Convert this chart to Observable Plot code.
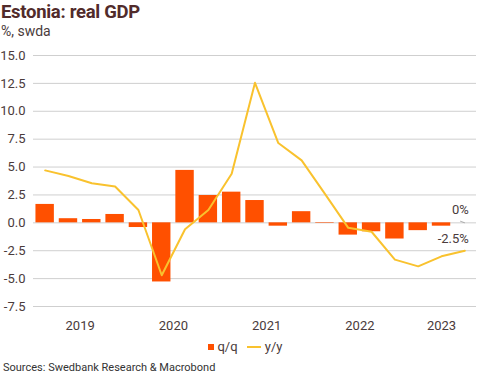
<!DOCTYPE html>
<html>
<head>
<meta charset="utf-8">
<script src="https://cdn.jsdelivr.net/npm/d3@7"></script>
<script src="https://cdn.jsdelivr.net/npm/@observablehq/plot@0.6"></script>
<style>
  html, body { margin: 0; padding: 0; background: #fff; }
  body { width: 491px; height: 377px; overflow: hidden; font-family: Roboto, "Noto Sans", sans-serif; }
  #title { position: absolute; left: 1px; top: 1px; font-size: 18.5px; font-weight: 700; color: #512B2B; letter-spacing: -0.3px; }
  #subtitle { position: absolute; left: 1px; top: 23px; font-size: 14px; color: #4a3b3b; }
  #chart { position: absolute; left: 0; top: 45px; }
  #legend { position: absolute; left: 0; width: 491px; top: 338px; text-align: center; font-size: 13px; color: #4a3b3b; }
  #legend span { display: inline-block; vertical-align: middle; }
  #source { position: absolute; left: 3px; top: 361px; font-size: 11px; color: #333; }
</style>
</head>
<body>
<div id="title">Estonia: real GDP</div>
<div id="subtitle">%, swda</div>
<div id="chart"></div>
<div id="legend">
  <span style="width:6px;height:6px;background:#FF5000;margin-right:3px;"></span><span>q/q</span>
  <span style="width:14px;height:2px;background:#F9C22E;margin-left:6px;margin-right:4px;"></span><span>y/y</span>
</div>
<div id="source">Sources: Swedbank Research &amp; Macrobond</div>
<script>
const quarters = ["2019Q1","2019Q2","2019Q3","2019Q4","2020Q1","2020Q2","2020Q3","2020Q4",
  "2021Q1","2021Q2","2021Q3","2021Q4","2022Q1","2022Q2","2022Q3","2022Q4","2023Q1","2023Q2","2023Q3"];
const qq = [1.65, 0.37, 0.3, 0.75, -0.42, -5.3, 4.7, 2.45, 2.75, 2.0, -0.3, 1.0, -0.05, -1.1, -0.8, -1.45, -0.7, -0.3, 0];
const yy = [4.7, 4.2, 3.55, 3.25, 1.15, -4.7, -0.57, 1.15, 4.4, 12.55, 7.15, 5.6, 2.6, -0.45, -0.8, -3.3, -3.9, -3.0, -2.5];
const yTicks = [-7.5, -5, -2.5, 0, 2.5, 5, 7.5, 10, 12.5, 15];
const years = ["2019", "2020", "2021", "2022", "2023"];
const endLabels = ["0%", "-2.5%"];

const data = quarters.map((q, i) => ({i, q, year: q.slice(0, 4), qq: qq[i], yy: yy[i]}));
const n = quarters.length;
const yearData = years.map(y => {
  const idx = data.filter(d => d.year === y).map(d => d.i);
  const lo = Math.max(-0.5, d3.min(idx) - 0.5), hi = Math.min(n - 0.5, d3.max(idx) + 0.5);
  return {year: y, x: (lo + hi) / 2};
});
const last = data[n - 1];

const chart = Plot.plot({
  width: 491,
  height: 290,
  marginLeft: 33,
  marginRight: 15,
  marginTop: 10,
  marginBottom: 29,
  style: {fontFamily: "Roboto, sans-serif", fontSize: "13px", color: "#4a3b3b", background: "transparent"},
  x: {domain: [-0.5, n - 0.5], axis: null},
  y: {domain: [-7.5, 15], axis: null},
  marks: [
    Plot.ruleY(yTicks, {stroke: "#cfcfcf", strokeWidth: 1}),
    Plot.text(yTicks, {x: -0.5, y: d => d, text: d => d.toFixed(1), textAnchor: "end", dx: -8, fill: "#4a3b3b", fontSize: 13}),
    Plot.rectY(data, {x1: d => d.i - 0.395, x2: d => d.i + 0.395, y1: 0, y2: "qq", fill: "#FF5000"}),
    Plot.line(data, {x: "i", y: "yy", stroke: "#F9C22E", strokeWidth: 2}),
    Plot.text(yearData, {x: "x", y: -7.5, text: "year", dy: 19, fill: "#4a3b3b", fontSize: 13}),
    Plot.link([last], {x1: d => d.i - 0.2, y1: d => d.qq + 0.15, x2: "i", y2: "qq", stroke: "#999", strokeWidth: 0.8}),
    Plot.text([last], {x: "i", y: "qq", text: () => endLabels[0], textAnchor: "end", dx: 4, dy: -13, fill: "#4a3b3b", fontSize: 13}),
    Plot.text([last], {x: "i", y: "yy", text: () => endLabels[1], textAnchor: "end", dx: 4, dy: -12, fill: "#4a3b3b", fontSize: 13})
  ]
});
document.getElementById("chart").appendChild(chart);
</script>
</body>
</html>
